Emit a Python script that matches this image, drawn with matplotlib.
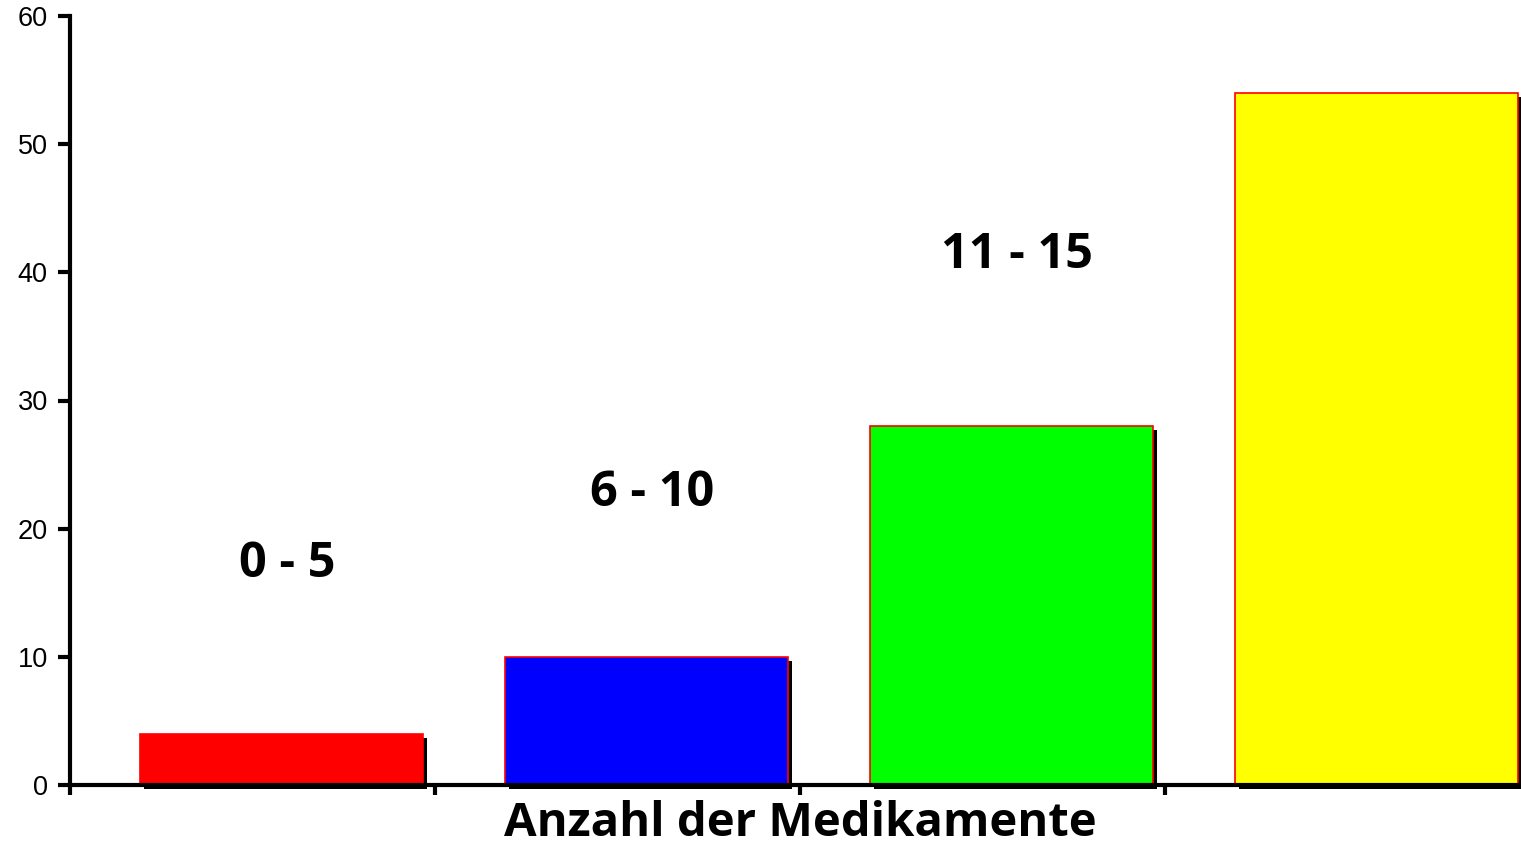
import matplotlib.pyplot as plt
import matplotlib.patheffects as pe
import numpy as np

categories = ['0 - 5', '6 - 10', '11 - 15', '> 15']
values = [4, 10, 28, 54]
colors = ['#ff0000', '#0000ff', '#00ff00', '#ffff00']
# label baselines (data units), yellow bar has no label
label_y = [16.2, 21.8, 40.3]

fig = plt.figure(figsize=(15.21, 8.48), dpi=100)
ax = fig.add_axes([70 / 1521, 63 / 848, 1460 / 1521, 769 / 848])

x = np.arange(len(categories)) + 0.58
bars = ax.bar(x, values, width=0.775, color=colors, edgecolor='#ff0000',
              linewidth=1.2, zorder=2, clip_on=False)
for b in bars:
    b.set_path_effects([pe.SimplePatchShadow(offset=(3, -3), shadow_rgbFace='black',
                                             alpha=1.0),
                        pe.Normal()])

for xi, yi, lab in zip(x, label_y, categories):
    ax.text(xi + 0.015, yi, lab, ha='center', va='baseline', fontsize=35,
            fontweight='bold', family=['Open Sans', 'DejaVu Sans'])

ax.set_xlim(0, 4)
ax.set_ylim(0, 60)
ax.set_xticks([0, 1, 2, 3, 4])
ax.set_xticklabels([])
ax.set_yticks(range(0, 61, 10))
ax.tick_params(axis='y', labelsize=19.5, length=9, width=3, pad=7)
ax.tick_params(axis='x', length=7, width=3)
for lab in ax.get_yticklabels():
    lab.set_family('Liberation Sans')

for s in ['top', 'right']:
    ax.spines[s].set_visible(False)
for s in ['left', 'bottom']:
    ax.spines[s].set_linewidth(3)
    ax.spines[s].set_zorder(3)

ax.set_xlabel('Anzahl der Medikamente', fontsize=34, fontweight='bold',
              family=['Open Sans', 'DejaVu Sans'], labelpad=0)

fig.savefig('out.png', dpi=100)
